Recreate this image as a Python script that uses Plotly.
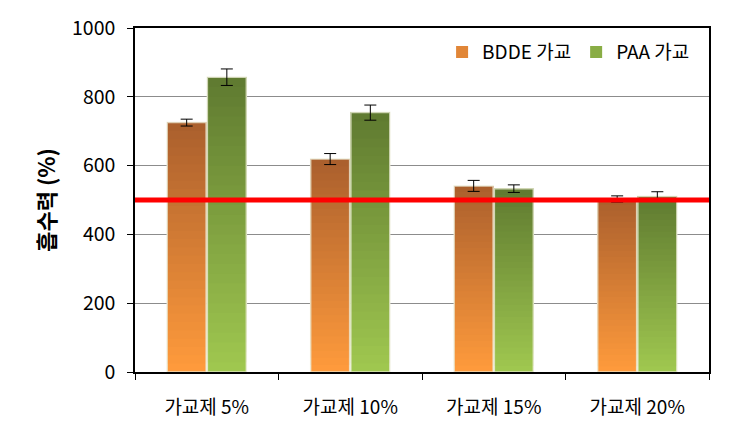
import plotly.graph_objects as go

categories = ['가교제 5%', '가교제 10%', '가교제 15%', '가교제 20%']
bdde = [725, 619, 541, 503]
bdde_err = [10, 16, 16, 9]
paa = [857, 754, 533, 510]
paa_err = [24, 22, 11, 14]
threshold = 500

font = 'Noto Sans CJK KR'
n_steps = 30


def mix(c1, c2, t):
    return 'rgb(%d,%d,%d)' % tuple(round(a + (b - a) * t) for a, b in zip(c1, c2))


series = [
    ('BDDE 가교', bdde, bdde_err, (255, 155, 60), (170, 95, 45), 'bdde'),
    ('PAA 가교', paa, paa_err, (160, 200, 80), (95, 122, 48), 'paa'),
]

fig = go.Figure()
for name, vals, errs, light, dark, grp in series:
    # gradient: each slice runs from its base to the top, later slices cover earlier ones
    for k in range(n_steps):
        t = (k + 0.5) / n_steps
        fig.add_trace(go.Bar(
            x=categories,
            y=[v * (n_steps - k) / n_steps for v in vals],
            base=[v * k / n_steps for v in vals],
            offsetgroup=grp,
            marker=dict(color=mix(light, dark, t), line=dict(width=0)),
            name=name,
            showlegend=(k == n_steps // 3),
            legendgroup=grp,
            hoverinfo='skip',
        ))
    fig.add_trace(go.Bar(
        x=categories,
        y=vals,
        offsetgroup=grp,
        marker=dict(color='rgba(0,0,0,0)', line=dict(color='rgba(235,235,215,0.8)', width=1.5)),
        error_y=dict(type='data', array=errs, color='black', thickness=1, width=6),
        showlegend=False,
        legendgroup=grp,
        name=name,
    ))

fig.add_shape(type='line', xref='paper', x0=0, x1=1, y0=threshold, y1=threshold,
              line=dict(color='#FF0000', width=5), layer='above')

fig.update_layout(
    width=733, height=438,
    margin=dict(l=135, r=24, t=24, b=66),
    paper_bgcolor='white', plot_bgcolor='white',
    font=dict(family=font, size=18, color='black'),
    barmode='group', bargap=0.44, bargroupgap=0.03,
    legend=dict(orientation='h', x=0.535, y=0.985, xanchor='left', yanchor='top',
                font=dict(size=19), bgcolor='rgba(0,0,0,0)', traceorder='normal',
                itemwidth=30),
    xaxis=dict(showline=True, linecolor='black', linewidth=1.5, mirror=True,
               ticks='outside', tickson='boundaries', ticklen=6, tickcolor='black',
               tickfont=dict(size=19), ticklabelstandoff=17),
    yaxis=dict(range=[0, 1000], dtick=200, showline=True, linecolor='black', linewidth=1.5,
               mirror=True, ticks='outside', ticklen=6, tickcolor='black',
               showgrid=True, gridcolor='#8C8C8C', gridwidth=1,
               tickfont=dict(size=19.5), ticklabelstandoff=8,
               title=dict(text='<b>흡수력 (%)</b>', font=dict(size=22), standoff=10)),
)

fig.write_html('out.html', config={'displayModeBar': False},
               post_script="document.body.style.margin='0';")
